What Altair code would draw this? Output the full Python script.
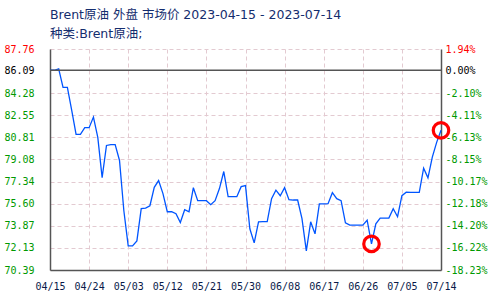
import altair as alt
import pandas as pd

title_text = "Brent原油 外盘 市场价  2023-04-15 - 2023-07-14"
subtitle_text = "种类:Brent原油;"

start_date = "2023-04-15"
prices = [
    86.09, 86.09, 86.20, 84.74, 84.74, 82.94, 81.05, 81.05, 81.58, 81.58,
    82.41, 80.81, 77.65, 80.18, 80.24, 80.24, 79.00, 75.05, 72.29, 72.29,
    72.68, 75.21, 75.26, 75.44, 76.89, 77.42, 76.39, 74.97, 74.97, 74.81,
    74.12, 75.13, 74.97, 76.86, 75.84, 75.84, 75.84, 75.52, 75.84, 76.79,
    78.13, 76.15, 76.15, 76.15, 76.94, 77.02, 73.63, 72.52, 74.18, 74.20,
    74.20, 76.00, 76.67, 76.23, 76.86, 75.92, 75.89, 75.89, 74.42, 71.89,
    74.18, 73.23, 75.58, 75.58, 75.60, 76.47, 76.00, 75.84, 74.10, 73.92,
    73.92, 73.92, 73.92, 74.30, 72.44, 74.02, 74.47, 74.47, 74.47, 75.21,
    74.58, 76.23, 76.51, 76.49, 76.49, 76.49, 78.39, 77.63, 79.26, 80.42,
    81.37,
]
marked_dates = ["2023-06-28", "2023-07-14"]

x_tick_dates = ["2023-04-15", "2023-04-24", "2023-05-03", "2023-05-12",
                "2023-05-21", "2023-05-30", "2023-06-08", "2023-06-17",
                "2023-06-26", "2023-07-05", "2023-07-14"]
x_tick_labels = ["04/15", "04/24", "05/03", "05/12", "05/21", "05/30",
                 "06/08", "06/17", "06/26", "07/05", "07/14"]
y_ticks = [70.39, 72.13, 73.87, 75.60, 77.34, 79.08, 80.81, 82.55, 84.28, 86.09, 87.76]
pct_labels = ["-18.23%", "-16.22%", "-14.20%", "-12.18%", "-10.17%", "-8.15%",
              "-6.13%", "-4.11%", "-2.10%", "0.00%", "1.94%"]
base_price = 86.09

t0 = pd.Timestamp(start_date)
dates = pd.date_range(start_date, periods=len(prices), freq="D")
df = pd.DataFrame({"date": dates, "price": prices})
df["day"] = (df["date"] - t0).dt.days
df["date"] = df["date"].dt.strftime("%Y-%m-%d")
marks_df = df[df["date"].isin(marked_dates)]
x_days = [(pd.Timestamp(d) - t0).days for d in x_tick_dates]


def chain(values, labels):
    expr = "''"
    for v, l in reversed(list(zip(values, labels))):
        expr = f"(abs(datum.value - {v}) < 0.001 ? '{l}' : {expr})"
    return expr


x_label_expr = chain(x_days, x_tick_labels)
pct_label_expr = chain(y_ticks, pct_labels)

label_font = "DejaVu Sans Mono"
title_font = "DejaVu Sans, Noto Sans CJK SC"
grid_color = "#e3cad1"
frame_color = "#555555"
label_color_cond = {
    "condition": [
        {"test": f"datum.value >= {max(y_ticks) - 0.01}", "value": "#ff0000"},
        {"test": f"abs(datum.value - {base_price}) < 0.001", "value": "#000000"},
    ],
    "value": "#009900",
}

y_scale = alt.Scale(domain=[min(y_ticks), max(y_ticks)], nice=False, zero=False)
x_enc = alt.X(
    "day:Q",
    scale=alt.Scale(domain=[min(x_days), max(x_days)], nice=False, zero=False),
    axis=alt.Axis(
        values=x_days, labelExpr=x_label_expr, title=None,
        ticks=False, tickSize=0, labelPadding=11,
        labelFont=label_font, labelFontSize=10, labelColor="#0a1a4a",
        domainColor=frame_color, domainWidth=1.5,
        grid=True, gridColor=grid_color, gridDash=[4, 3], gridWidth=1,
        labelFlush=False, labelOverlap=False,
    ),
)

line = alt.Chart(df).mark_line(color="#0055ff", strokeWidth=1.3).encode(
    x=x_enc,
    y=alt.Y(
        "price:Q", scale=y_scale,
        axis=alt.Axis(
            orient="left", values=y_ticks, format=".2f", title=None,
            ticks=False, tickSize=0, labelPadding=16,
            labelFont=label_font, labelFontSize=10, labelColor=label_color_cond,
            domainColor=frame_color, domainWidth=1.5,
            grid=True, gridColor=grid_color, gridDash=[4, 3], gridWidth=1,
            labelFlush=False, labelOverlap=False, labelBaseline="middle",
        ),
    ),
)

base_rule = alt.Chart(pd.DataFrame({"v": [base_price]})).mark_rule(
    color=frame_color, strokeWidth=1.5
).encode(y=alt.Y("v:Q", scale=y_scale, axis=None))

circles = alt.Chart(marks_df).mark_point(
    shape="circle", filled=False, color="#ff0000", strokeWidth=3.2, size=240, opacity=1
).encode(
    x=x_enc,
    y=alt.Y(
        "price:Q", scale=y_scale,
        axis=alt.Axis(
            orient="right", values=y_ticks, labelExpr=pct_label_expr, title=None,
            ticks=False, tickSize=0, labelPadding=4,
            labelFont=label_font, labelFontSize=10, labelColor=label_color_cond,
            domainColor=frame_color, domainWidth=1.5, grid=False,
            labelFlush=False, labelOverlap=False, labelBaseline="middle",
        ),
    ),
)

title1 = alt.Chart(pd.DataFrame({"t": [title_text]})).mark_text(
    align="left", baseline="middle", font=title_font, fontSize=12.5, color="#142d6e"
).encode(x=alt.value(0), y=alt.value(-34), text="t:N")
title2 = alt.Chart(pd.DataFrame({"t": [subtitle_text]})).mark_text(
    align="left", baseline="middle", font=title_font, fontSize=12.5, color="#142d6e"
).encode(x=alt.value(0), y=alt.value(-15), text="t:N")

chart = alt.layer(line, base_rule, circles, title1, title2).resolve_scale(
    y="independent"
).properties(
    width=391, height=221, autosize="none",
    padding={"left": 50, "top": 49, "right": 49, "bottom": 30},
    background="white",
).configure_view(strokeOpacity=0)

chart.save("out.html", embed_options={"renderer": "svg", "actions": False})
